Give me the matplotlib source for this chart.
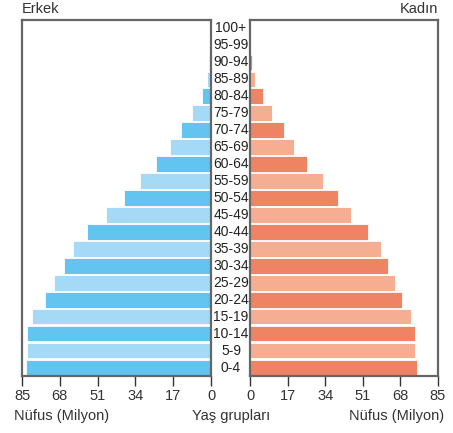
import matplotlib.pyplot as plt

plt.rcParams['font.family'] = ['Liberation Sans Narrow', 'Liberation Sans', 'DejaVu Sans']

# age groups from bottom (0-4) to top (100+)
age_groups = ["0-4", "5-9", "10-14", "15-19", "20-24", "25-29", "30-34", "35-39",
              "40-44", "45-49", "50-54", "55-59", "60-64", "65-69", "70-74",
              "75-79", "80-84", "85-89", "90-94", "95-99", "100+"]

# population in millions
erkek = [83.3, 82.9, 82.9, 80.5, 74.8, 70.6, 66.2, 62.0, 55.8, 47.4, 39.3,
         31.8, 24.8, 18.6, 13.5, 8.4, 4.0, 1.7, 0.7, 0.6, 0.5]
kadin = [75.5, 74.6, 74.6, 72.7, 68.5, 65.6, 62.3, 59.1, 53.4, 45.7, 39.7,
         33.1, 25.6, 19.9, 15.2, 9.9, 5.7, 2.4, 1.0, 0.2, 0.1]

ticks = [0, 17, 34, 51, 68, 85]

blue_dark, blue_light = "#62c4ef", "#a5daf6"
red_dark, red_light = "#ee8464", "#f6ae93"
frame = "#666666"

fig = plt.figure(figsize=(4.53, 4.33), dpi=100)
ax_l = fig.add_axes([22 / 453, 1 - 376 / 433, 189 / 453, 356 / 433])
ax_r = fig.add_axes([250 / 453, 1 - 376 / 433, 188 / 453, 356 / 433])

ypos = list(range(len(age_groups)))
cols_l = [blue_dark if i % 2 == 0 else blue_light for i in ypos]
cols_r = [red_dark if i % 2 == 0 else red_light for i in ypos]

ax_l.barh(ypos, erkek, height=0.92, color=cols_l, edgecolor="white", linewidth=0.6)
ax_r.barh(ypos, kadin, height=0.92, color=cols_r, edgecolor="white", linewidth=0.6)

ax_l.set_xlim(85, 0)
ax_r.set_xlim(0, 85)

for ax in (ax_l, ax_r):
    ax.set_ylim(-0.5, len(age_groups) - 0.5)
    ax.set_yticks([])
    ax.set_xticks(ticks)
    ax.tick_params(axis="x", length=7, width=1, color="#333333", pad=2,
                   labelsize=10.5, labelcolor="#333333")
    for s in ax.spines.values():
        s.set_color(frame)
        s.set_linewidth(1.6)

# age labels in the middle
for i, g in enumerate(age_groups):
    fig.text(231 / 453, ax_l.transData.transform((0, i))[1] / fig.dpi / 4.33,
             g, ha="center", va="center", fontsize=10, color="#222222")

fig.text(22 / 453, 1 - 9 / 433, "Erkek", ha="left", va="center", fontsize=10.5, color="#333333")
fig.text(438 / 453, 1 - 9 / 433, "Kadın", ha="right", va="center", fontsize=10.5, color="#333333")
fig.text(14 / 453, 1 - 416 / 433, "Nüfus (Milyon)", ha="left", va="center", fontsize=10.5, color="#333333")
fig.text(231 / 453, 1 - 416 / 433, "Yaş grupları", ha="center", va="center", fontsize=10.5, color="#333333")
fig.text(444 / 453, 1 - 416 / 433, "Nüfus (Milyon)", ha="right", va="center", fontsize=10.5, color="#333333")

fig.savefig("out.png", dpi=100)
